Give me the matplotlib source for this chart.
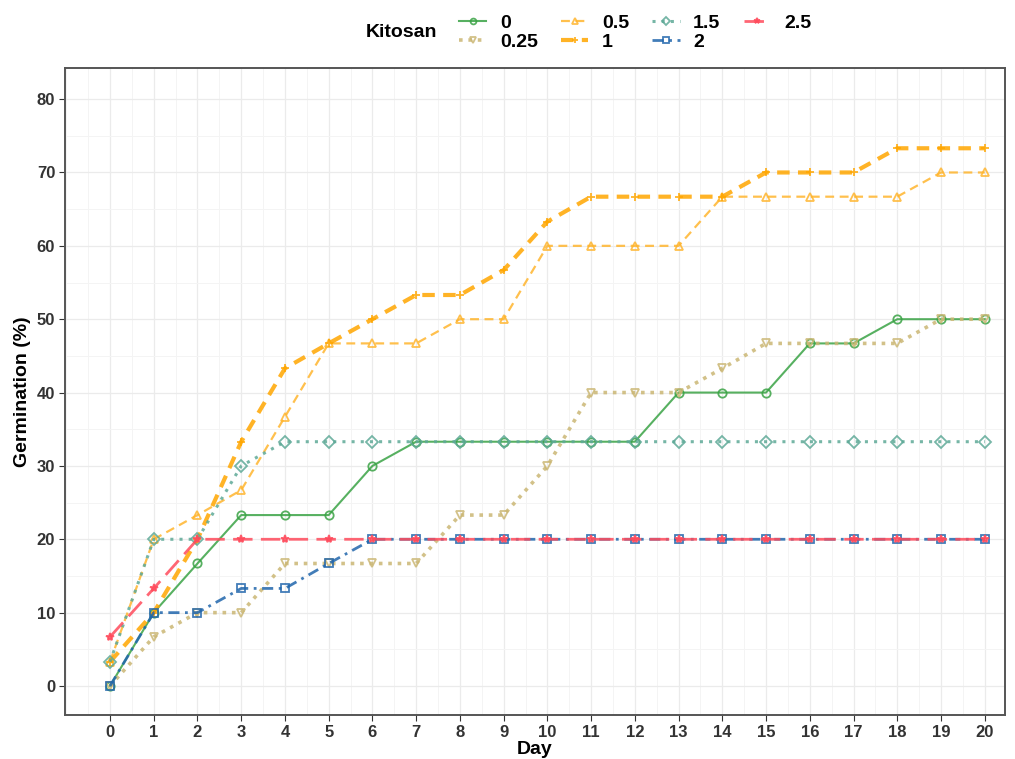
import matplotlib.pyplot as plt
from matplotlib.ticker import MultipleLocator

plt.rcParams['font.family'] = ['Liberation Sans', 'DejaVu Sans']

days = list(range(21))
doses = ['0', '0.25', '0.5', '1', '1.5', '2', '2.5']

germ_0 = [0, 10, 16.7, 23.3, 23.3, 23.3, 30, 33.3, 33.3, 33.3, 33.3,
          33.3, 33.3, 40, 40, 40, 46.7, 46.7, 50, 50, 50]
germ_025 = [0, 6.7, 10, 10, 16.7, 16.7, 16.7, 16.7, 23.3, 23.3, 30,
            40, 40, 40, 43.3, 46.7, 46.7, 46.7, 46.7, 50, 50]
germ_05 = [3.3, 20, 23.3, 26.7, 36.7, 46.7, 46.7, 46.7, 50, 50, 60,
           60, 60, 60, 66.7, 66.7, 66.7, 66.7, 66.7, 70, 70]
germ_1 = [3.3, 10, 20, 33.3, 43.3, 46.7, 50, 53.3, 53.3, 56.7, 63.3,
          66.7, 66.7, 66.7, 66.7, 70, 70, 70, 73.3, 73.3, 73.3]
germ_15 = [3.3, 20, 20, 30, 33.3, 33.3, 33.3, 33.3, 33.3, 33.3, 33.3,
           33.3, 33.3, 33.3, 33.3, 33.3, 33.3, 33.3, 33.3, 33.3, 33.3]
germ_2 = [0, 10, 10, 13.3, 13.3, 16.7, 20, 20, 20, 20, 20,
          20, 20, 20, 20, 20, 20, 20, 20, 20, 20]
germ_25 = [6.7, 13.3, 20, 20, 20, 20, 20, 20, 20, 20, 20,
           20, 20, 20, 20, 20, 20, 20, 20, 20, 20]

series = [germ_0, germ_025, germ_05, germ_1, germ_15, germ_2, germ_25]

# line / marker style per chitosan dose
styles = [
    dict(color='#3aa345', ls='-', lw=1.5, marker='o', mfc='none'),
    dict(color='#cbb774', ls=(0, (1, 1.6)), lw=2.6, marker='v', mfc='none'),
    dict(color='#ffb52e', ls=(0, (4, 2.5)), lw=1.6, marker='^', mfc='none'),
    dict(color='#ffa600', ls=(0, (3, 2)), lw=3.0, marker='+', mfc='none'),
    dict(color='#5ea997', ls=(0, (1, 2)), lw=2.2, marker='D', mfc='none'),
    dict(color='#2166ac', ls=(0, (4, 2, 1, 2)), lw=2.0, marker='s', mfc='none'),
    dict(color='#ff4b5c', ls=(0, (7, 3)), lw=2.0, marker='*', mfc='#ff4b5c'),
]

fig = plt.figure(figsize=(10.15, 7.59), dpi=100)
ax = fig.add_axes([0.064, 0.058, 0.926, 0.852])

handles = []
for lab, vals, st in zip(doses, series, styles):
    h, = ax.plot(days, vals, color=st['color'], ls=st['ls'], lw=st['lw'],
                 marker=st['marker'], mfc=st['mfc'], mec=st['color'],
                 ms=6, mew=1.3, label=lab, alpha=0.85)
    handles.append(h)

ax.set_xlim(-1.03, 20.46)
ax.set_ylim(-3.95, 84.2)
ax.set_xticks(days)
ax.xaxis.set_minor_locator(MultipleLocator(0.5))
ax.yaxis.set_major_locator(MultipleLocator(10))
ax.yaxis.set_minor_locator(MultipleLocator(5))
ax.grid(which='major', color='#ebebeb', lw=0.9)
ax.grid(which='minor', color='#f4f4f4', lw=0.7)
ax.set_axisbelow(True)
ax.tick_params(which='minor', length=0)
ax.tick_params(which='major', length=4, color='#333333', labelsize=12,
               labelcolor='#333333', pad=3)
for lbl in ax.get_xticklabels() + ax.get_yticklabels():
    lbl.set_fontweight('bold')
for sp in ax.spines.values():
    sp.set_color('#555555')
    sp.set_linewidth(1.4)

ax.set_xlabel('Day', fontsize=14, fontweight='bold', labelpad=1)
ax.set_ylabel('Germination (%)', fontsize=14, fontweight='bold', labelpad=4)

fig.text(0.36, 0.957, 'Kitosan', fontsize=14, fontweight='bold',
         ha='left', va='center')
leg = fig.legend(handles=handles, ncol=4, loc='center left',
                 bbox_to_anchor=(0.435, 0.957), frameon=False,
                 fontsize=14, handlelength=1.4, columnspacing=1.2,
                 handletextpad=0.7, labelspacing=0.05, markerscale=0.7)
for t in leg.get_texts():
    t.set_fontweight('bold')

fig.savefig('out.png', dpi=100)
